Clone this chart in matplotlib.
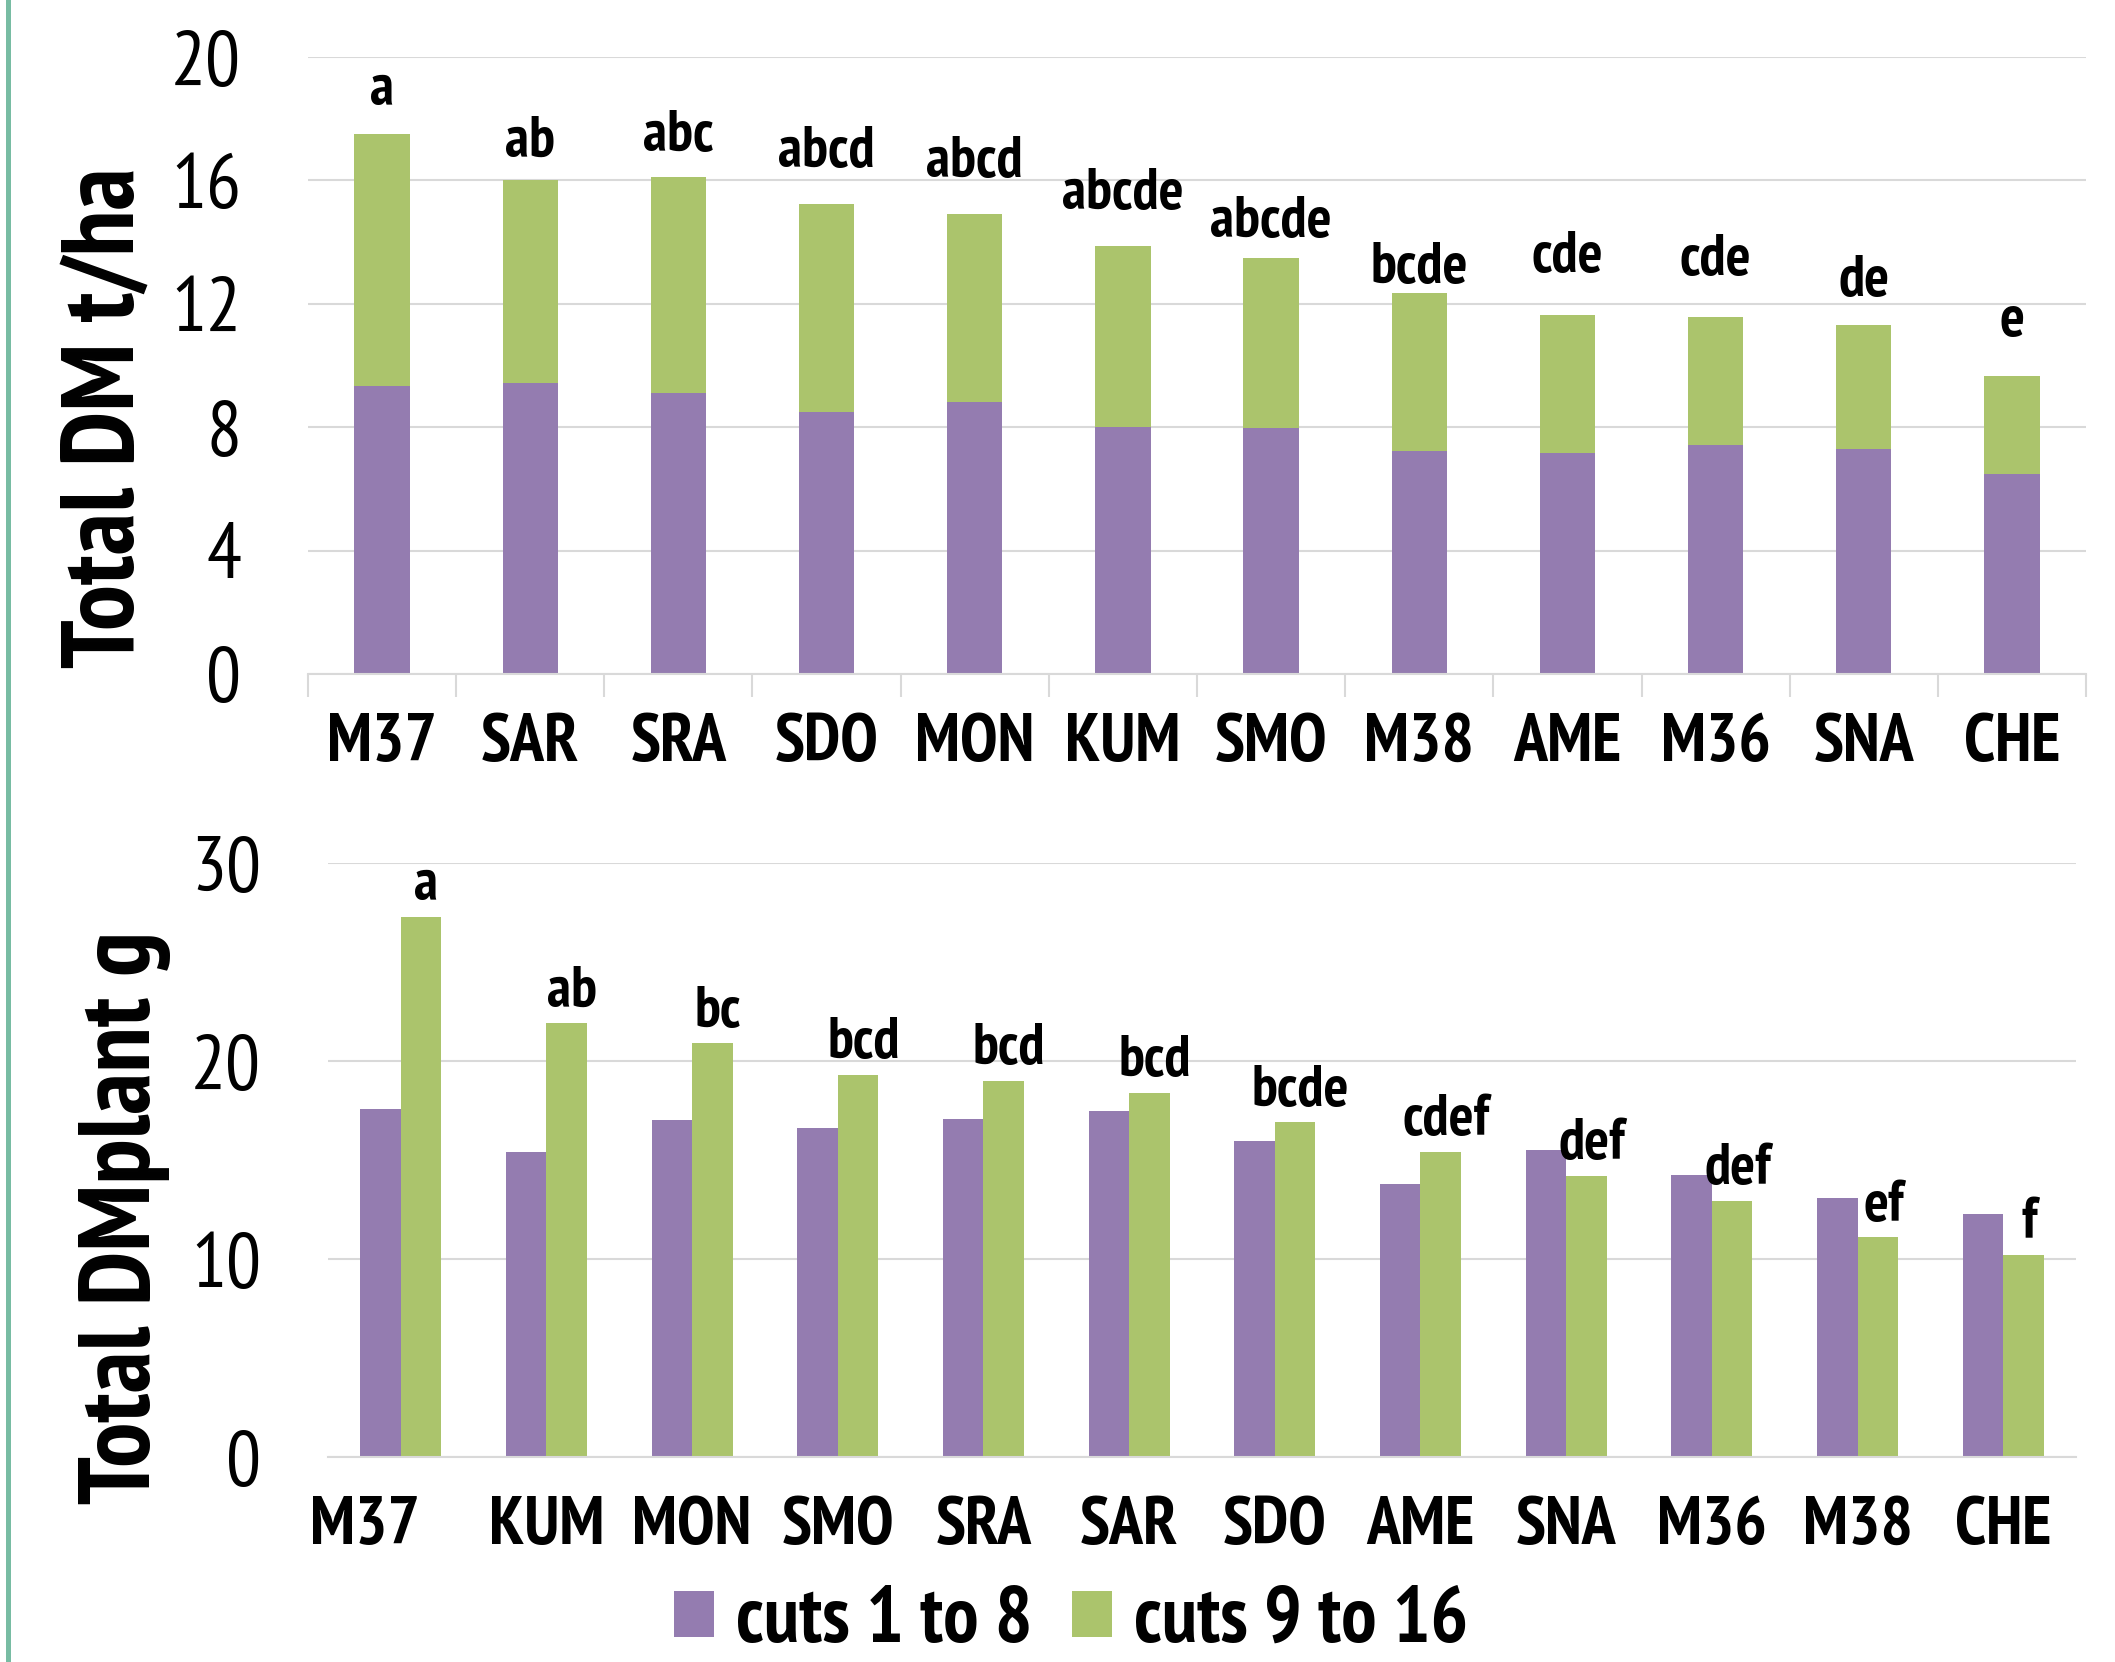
import numpy as np
import matplotlib
matplotlib.use("Agg")
import matplotlib.pyplot as plt
import matplotlib.transforms as mtransforms
from matplotlib.lines import Line2D
from matplotlib.patches import Patch

plt.rcParams["font.family"] = ["PT Sans Narrow", "DejaVu Sans"]

# ── Data ───────────────────────────────────────────────────────────────────────
# Total dry matter per hectare (stacked: cuts 1-8 + cuts 9-16)
ha_cultivars = ["M37", "SAR", "SRA", "SDO", "MON", "KUM",
                "SMO", "M38", "AME", "M36", "SNA", "CHE"]
ha_cuts_1_8 = [9.35, 9.43, 9.10, 8.48, 8.83, 8.00, 7.96, 7.22, 7.17, 7.43, 7.30, 6.48]
ha_cuts_9_16 = [8.15, 6.57, 7.00, 6.77, 6.07, 5.87, 5.52, 5.13, 4.48, 4.14, 4.00, 3.17]
ha_letters = ["a", "ab", "abc", "abcd", "abcd", "abcde",
              "abcde", "bcde", "cde", "cde", "de", "e"]

# Total dry matter per plant (grouped)
plant_cultivars = ["M37", "KUM", "MON", "SMO", "SRA", "SAR",
                   "SDO", "AME", "SNA", "M36", "M38", "CHE"]
plant_cuts_1_8 = [17.6, 15.4, 17.0, 16.6, 17.05, 17.5, 15.95, 13.8, 15.5, 14.25, 13.1, 12.3]
plant_cuts_9_16 = [27.3, 21.9, 20.9, 19.3, 19.0, 18.4, 16.9, 15.4, 14.2, 12.95, 11.1, 10.2]
plant_letters = ["a", "ab", "bc", "bcd", "bcd", "bcd",
                 "bcde", "cdef", "def", "def", "ef", "f"]

# label gap above each stacked bar (points)
ha_letter_gap = [21, 17, 19, 26, 27, 27, 15, 7, 31, 30, 21, 29]

PURPLE = "#947cb0"
GREEN = "#abc46c"
GRID = "#d9d9d9"

fig = plt.figure(figsize=(21.15, 16.62), dpi=100)

# ── Panel 1: stacked t/ha ──────────────────────────────────────────────────────
ax1 = fig.add_axes([0.1456, 0.5945, 0.8407, 0.3712])
x = np.arange(len(ha_cultivars))
w = 0.373
ax1.bar(x, ha_cuts_1_8, w, color=PURPLE, zorder=3)
ax1.bar(x, ha_cuts_9_16, w, bottom=ha_cuts_1_8, color=GREEN, zorder=3)
tops = np.array(ha_cuts_1_8) + np.array(ha_cuts_9_16)
for xi, top, lab, gap in zip(x, tops, ha_letters, ha_letter_gap):
    ax1.annotate(lab, (xi, top), xytext=(0, gap), textcoords="offset points",
                 ha="center", va="baseline", fontsize=42, fontweight="bold")

ax1.set_ylim(0, 20)
ax1.set_xlim(-0.5, len(ha_cultivars) - 0.5)
ax1.set_yticks(np.arange(0, 21, 4))
ax1.set_xticks(x)
ax1.set_xticklabels(ha_cultivars, fontsize=49, fontweight="bold")
ax1.set_xticks(np.arange(-0.5, len(ha_cultivars), 1), minor=True)
ax1.tick_params(axis="x", which="major", length=0, pad=28)
ax1.tick_params(axis="x", which="minor", length=16.5, width=1.5, color=GRID)
ax1.tick_params(axis="y", length=0, pad=48, labelsize=56)
ax1.yaxis.grid(True, color=GRID, linewidth=1.5, zorder=0)
ax1.set_ylabel("Total DM t/ha", fontsize=74, fontweight="bold")
ax1.yaxis.set_label_coords(-0.0858, 0.415)

# ── Panel 2: grouped g/plant ───────────────────────────────────────────────────
ax2 = fig.add_axes([0.155, 0.1233, 0.8266, 0.3574])
x2 = np.arange(len(plant_cultivars))
bw = 0.278
ax2.bar(x2 - bw / 2, plant_cuts_1_8, bw, color=PURPLE, zorder=3)
ax2.bar(x2 + bw / 2, plant_cuts_9_16, bw, color=GREEN, zorder=3)
for xi, val, lab in zip(x2, plant_cuts_9_16, plant_letters):
    ax2.annotate(lab, (xi + bw / 2, val), xytext=(4, 12), textcoords="offset points",
                 ha="center", va="baseline", fontsize=42, fontweight="bold")

ax2.set_ylim(0, 30)
ax2.set_xlim(-0.5, len(plant_cultivars) - 0.5)
ax2.set_yticks([0, 10, 20, 30])
ax2.set_xticks(x2)
ax2.set_xticklabels(plant_cultivars, fontsize=49, fontweight="bold")
ax2.tick_params(axis="x", length=0, pad=28)
ax2.tick_params(axis="y", length=0, pad=48, labelsize=56)
ax2.yaxis.grid(True, color=GRID, linewidth=1.5, zorder=0)
ax2.set_ylabel("Total DMplant g", fontsize=73, fontweight="bold")
ax2.yaxis.set_label_coords(-0.0898, 0.404)
# first category label sits a little left of its bar pair
shift = mtransforms.ScaledTranslation(-0.36, 0, fig.dpi_scale_trans)
first = ax2.get_xticklabels()[0]
first.set_transform(first.get_transform() + shift)

for ax in (ax1, ax2):
    for side in ("top", "right", "left"):
        ax.spines[side].set_visible(False)
    ax.spines["bottom"].set_color(GRID)
    ax.spines["bottom"].set_linewidth(1.5)
    ax.spines["bottom"].set_zorder(4)

# ── Legend and side rule ───────────────────────────────────────────────────────
handles = [Patch(facecolor=PURPLE, label="cuts 1 to 8"),
           Patch(facecolor=GREEN, label="cuts 9 to 16")]
fig.legend(handles=handles, loc="lower center", bbox_to_anchor=(0.5064, 0.0),
           ncol=2, frameon=False, prop={"size": 57, "weight": "bold"},
           handlelength=0.5, handleheight=0.5, handletextpad=0.28,
           columnspacing=0.5, borderpad=0, borderaxespad=0.05)

fig.add_artist(Line2D([0.0036, 0.0036], [0, 1], transform=fig.transFigure,
                      color="#78bca3", linewidth=3.6))

fig.savefig("out.png", dpi=100)
